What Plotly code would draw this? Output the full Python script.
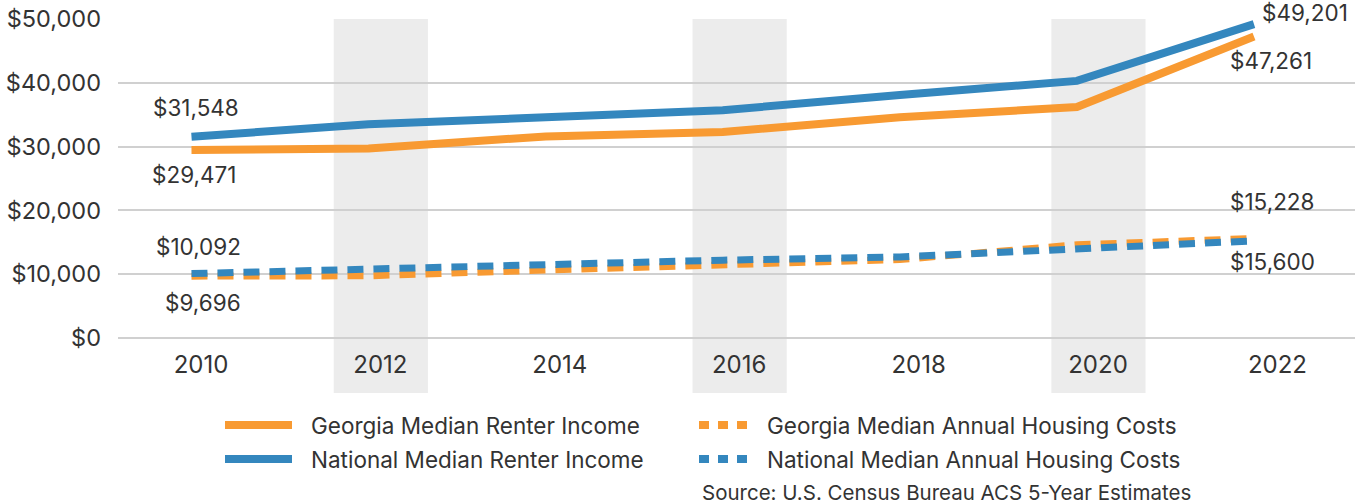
import plotly.graph_objects as go

# ACS 5-year estimates, Georgia vs. national renters
years = [2010, 2012, 2014, 2016, 2018, 2020, 2022]
shaded_years = [2012, 2016, 2020]
tick_years = [2010, 2012, 2014, 2016, 2018, 2020, 2022]

ga_income = [29471, 29700, 31600, 32300, 34600, 36200, 47261]
us_income = [31548, 33500, 34600, 35700, 38100, 40300, 49201]
ga_housing = [9696, 9750, 10650, 11450, 12300, 14600, 15600]
us_housing = [10092, 10800, 11700, 12200, 12700, 14100, 15228]

y_ticks = [0, 10000, 20000, 30000, 40000, 50000]

ORANGE = "#F89A32"
BLUE = "#3487BE"
TEXT = "#333333"
GRID = "#D0D0D0"
FONT = "Inter"

W, H = 1359, 504
L, R, T, B = 118, 4, 19, 166
plot_w = W - L - R
plot_h = H - T - B


def px(x):
    return (x - L) / plot_w


def py(y):
    return (H - B - y) / plot_h


series = [
    ("Georgia Median Renter Income", ga_income, ORANGE, "solid", 8),
    ("National Median Renter Income", us_income, BLUE, "solid", 8),
    ("Georgia Median Annual Housing Costs", ga_housing, ORANGE, "16px,10px", 7),
    ("National Median Annual Housing Costs", us_housing, BLUE, "16px,10px", 7),
]

fig = go.Figure()
for name, vals, color, dash, width in series:
    fig.add_trace(go.Scatter(
        x=years, y=vals, name=name, mode="lines", xaxis="x2",
        line=dict(color=color, width=width, dash=dash),
        showlegend=False, hoverinfo="x+y",
    ))

# shaded year bands reaching down behind the year labels
for yr in shaded_years:
    fig.add_shape(type="rect", xref="x", yref="paper",
                  x0=yr - 0.52, x1=yr + 0.53, y0=py(393), y1=1,
                  fillcolor="#ECECEC", line=dict(width=0), layer="below")

# endpoint value labels: (series values, index, anchor, x shift, y shift)
label_specs = [
    (us_income, 0, "center", 5, 29),
    (ga_income, 0, "center", 3, -25),
    (us_income, -1, "left", 6, 12),
    (ga_income, -1, "center", 17, -24),
    (us_housing, 0, "center", 7, 27),
    (ga_housing, 0, "center", 12, -26),
    (us_housing, -1, "center", 19, 39),
    (ga_housing, -1, "center", 19, -23),
]
annotations = []
for vals, idx, anchor, dx, dy in label_specs:
    annotations.append(dict(
        x=years[idx], y=vals[idx], xref="x2", yref="y",
        text=f"${vals[idx]:,}", showarrow=False, xanchor=anchor,
        xshift=dx, yshift=dy,
        font=dict(family=FONT, size=22.5, color=TEXT),
    ))

# legend drawn as two columns below the chart
legend_rows = [
    (series[0], 225, 309, 425),
    (series[1], 225, 309, 459),
    (series[2], 699, 765, 425),
    (series[3], 699, 765, 459),
]
for (name, _, color, dash, _w), x0, xt, yc in legend_rows:
    if dash == "solid":
        segments = [(x0, x0 + 67)]
    else:
        segments = [(x0 + k * 19, x0 + k * 19 + 10) for k in range(3)]
    for s0, s1 in segments:
        fig.add_shape(type="line", xref="paper", yref="paper",
                      x0=px(s0), x1=px(s1), y0=py(yc), y1=py(yc),
                      line=dict(color=color, width=8))
    annotations.append(dict(
        x=px(xt), y=py(yc), xref="paper", yref="paper",
        xanchor="left", yanchor="middle", text=name, showarrow=False,
        font=dict(family=FONT, size=22.5, color=TEXT),
    ))

annotations.append(dict(
    x=px(1193), y=py(492), xref="paper", yref="paper",
    xanchor="right", yanchor="middle",
    text="Source: U.S. Census Bureau ACS 5-Year Estimates", showarrow=False,
    font=dict(family=FONT, size=20.5, color=TEXT),
))

fig.update_layout(
    width=W, height=H,
    margin=dict(l=L, r=R, t=T, b=B, pad=0),
    paper_bgcolor="white", plot_bgcolor="rgba(0,0,0,0)",
    font=dict(family=FONT, size=20, color=TEXT),
    showlegend=False,
    xaxis=dict(
        range=[2009.075, 2022.865], tickvals=tick_years,
        ticktext=[str(y) for y in tick_years],
        showgrid=False, zeroline=False, showline=False, ticks="",
        ticklabelstandoff=10,
        tickfont=dict(family=FONT, size=24, color=TEXT),
    ),
    xaxis2=dict(
        range=[2009.170, 2023.141], overlaying="x", visible=False,
    ),
    yaxis=dict(
        range=[0, 50000], tickvals=y_ticks,
        ticktext=[f"${v:,}" for v in y_ticks],
        showgrid=True, gridcolor=GRID, gridwidth=2,
        zeroline=True, zerolinecolor=GRID, zerolinewidth=2,
        showline=False, ticks="", ticklabelstandoff=16,
        tickfont=dict(family=FONT, size=23.5, color=TEXT),
    ),
    annotations=annotations,
)

fig.write_html("out.html")
